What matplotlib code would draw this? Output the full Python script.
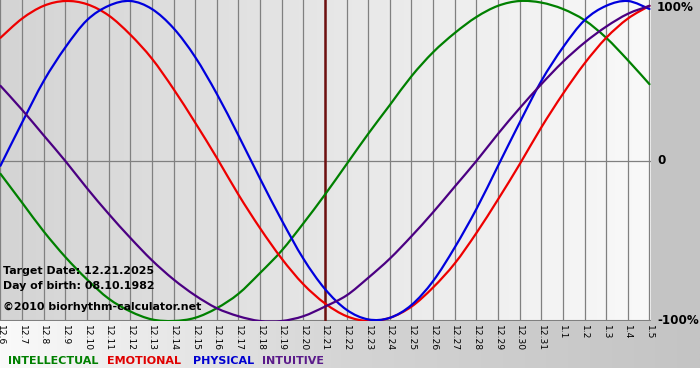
import numpy as np
import matplotlib
matplotlib.use("Agg")
import matplotlib.pyplot as plt
from matplotlib.path import Path
from matplotlib.patches import PathPatch
from matplotlib.colors import LinearSegmentedColormap

days = ["12.6", "12.7", "12.8", "12.9", "12.10", "12.11", "12.12", "12.13", "12.14",
        "12.15", "12.16", "12.17", "12.18", "12.19", "12.20", "12.21", "12.22", "12.23",
        "12.24", "12.25", "12.26", "12.27", "12.28", "12.29", "12.30", "12.31",
        "1.1", "1.2", "1.3", "1.4", "1.5"]

physical = [-0.03, 0.24, 0.50, 0.71, 0.88, 0.97, 1.00, 0.95, 0.83, 0.65, 0.42, 0.16,
            -0.11, -0.37, -0.61, -0.80, -0.93, -0.99, -0.98, -0.90, -0.75, -0.54, -0.30,
            -0.03, 0.24, 0.50, 0.71, 0.88, 0.97, 1.00, 0.95]
emotional = [0.77, 0.89, 0.97, 1.00, 0.98, 0.91, 0.79, 0.64, 0.45, 0.24, 0.02, -0.21,
             -0.42, -0.61, -0.77, -0.89, -0.97, -1.00, -0.98, -0.91, -0.79, -0.64, -0.45,
             -0.24, -0.02, 0.21, 0.42, 0.61, 0.77, 0.89, 0.97]
intellectual = [-0.08, -0.26, -0.44, -0.60, -0.74, -0.86, -0.94, -0.99, -1.00, -0.98,
                -0.92, -0.83, -0.70, -0.56, -0.39, -0.21, -0.02, 0.17, 0.35, 0.53, 0.68,
                0.80, 0.90, 0.97, 1.00, 0.99, 0.95, 0.88, 0.77, 0.63, 0.48]
intuitive = [0.47, 0.32, 0.16, 0.00, -0.17, -0.33, -0.48, -0.62, -0.74, -0.84, -0.92,
             -0.97, -1.00, -1.00, -0.97, -0.91, -0.84, -0.73, -0.61, -0.47, -0.32, -0.16,
             0.00, 0.17, 0.33, 0.48, 0.62, 0.74, 0.84, 0.92, 0.97]

target_idx = 15
info = ["Target Date: 12.21.2025", "Day of birth: 08.10.1982", "\u00a92010 biorhythm-calculator.net"]
legend_names = ["INTELLECTUAL", "EMOTIONAL", "PHYSICAL", "INTUITIVE"]
legend_colors = ["#008000", "#e00000", "#0000d0", "#5a1a8a"]


def smooth_path(xs, ys):
    # bezier through the daily points (catmull-rom tangents)
    xs = np.asarray(xs, float)
    ys = np.asarray(ys, float)
    verts = [(xs[0], ys[0])]
    codes = [Path.MOVETO]
    n = len(xs)
    for i in range(n - 1):
        p0 = i - 1 if i > 0 else i
        p3 = i + 2 if i + 2 < n else i + 1
        c1 = (xs[i] + (xs[i + 1] - xs[p0]) / 6, ys[i] + (ys[i + 1] - ys[p0]) / 6)
        c2 = (xs[i + 1] - (xs[p3] - xs[i]) / 6, ys[i + 1] - (ys[p3] - ys[i]) / 6)
        verts += [c1, c2, (xs[i + 1], ys[i + 1])]
        codes += [Path.CURVE4] * 3
    return Path(verts, codes)


W, H = 700, 380
fig = plt.figure(figsize=(7, 3.8), dpi=100)
fig.patch.set_facecolor("white")

# background frame
bg = fig.add_axes([0, 0, 1, 1])
bg.set_xlim(0, W)
bg.set_ylim(H, 0)
bg.axis("off")
bg.add_patch(plt.Rectangle((651, 0), 49, 330, color="#c4c4c4", lw=0))
strip = np.outer(np.ones(2), np.linspace(0, 1, 256))
bg.imshow(strip, cmap=LinearSegmentedColormap.from_list("s", ["#fafafa", "#d4d4d4", "#c4c4c4"]),
          extent=(0, 700, 368, 321), aspect="auto", zorder=1)

ax = fig.add_axes([0, 1 - 321 / H, 651 / W, 321 / H])
x = np.arange(len(days))
ax.set_xlim(-0.02, 30.07)
ax.set_ylim(-1, 1 + 1 / 160)
ax.imshow(strip, cmap=LinearSegmentedColormap.from_list("p", ["#d4d4d4", "#f9f9f9"]),
          extent=(-0.02, 30.07, -1, 1.01), aspect="auto", zorder=0)
for i in x:
    ax.axvline(i, color="#808080", lw=0.9, zorder=1)
ax.axhline(0, color="#808080", lw=0.9, zorder=1)
ax.axhline(-1, color="#808080", lw=1.5, zorder=1)
ax.axvline(target_idx, color="#6e1010", lw=1.8, zorder=2)

for vals, col in [(intellectual, "#008000"), (emotional, "#ee0000"),
                  (physical, "#0000dd"), (intuitive, "#4b0082")]:
    ax.add_patch(PathPatch(smooth_path(x, vals), fill=False, edgecolor=col, lw=1.6,
                           zorder=3, capstyle="round", joinstyle="round"))
ax.axis("off")

for i, lab in zip(x, days):
    ax.text(i, -1.025, lab, rotation=270, ha="center", va="top", fontsize=6.6,
            color="black", clip_on=False)

ax.text(30.35, 1.003, "100%", ha="left", va="top", fontsize=8.6, fontweight="bold", clip_on=False)
ax.text(30.35, 0.0, "0", ha="left", va="center", fontsize=8.6, fontweight="bold", clip_on=False)
ax.text(30.35, -1.0, "-100%", ha="left", va="center", fontsize=8.6, fontweight="bold", clip_on=False)

for t, yy in zip(info, [271, 286, 307]):
    fig.text(3 / W, 1 - yy / H, t, ha="left", va="center", fontsize=7.9, fontweight="bold")

for name, col, lx in zip(legend_names, legend_colors, [8, 107, 193, 262]):
    fig.text(lx / W, 1 - 361 / H, name, ha="left", va="center", fontsize=8.0,
             fontweight="bold", color=col)

fig.savefig("out.png", dpi=100)
